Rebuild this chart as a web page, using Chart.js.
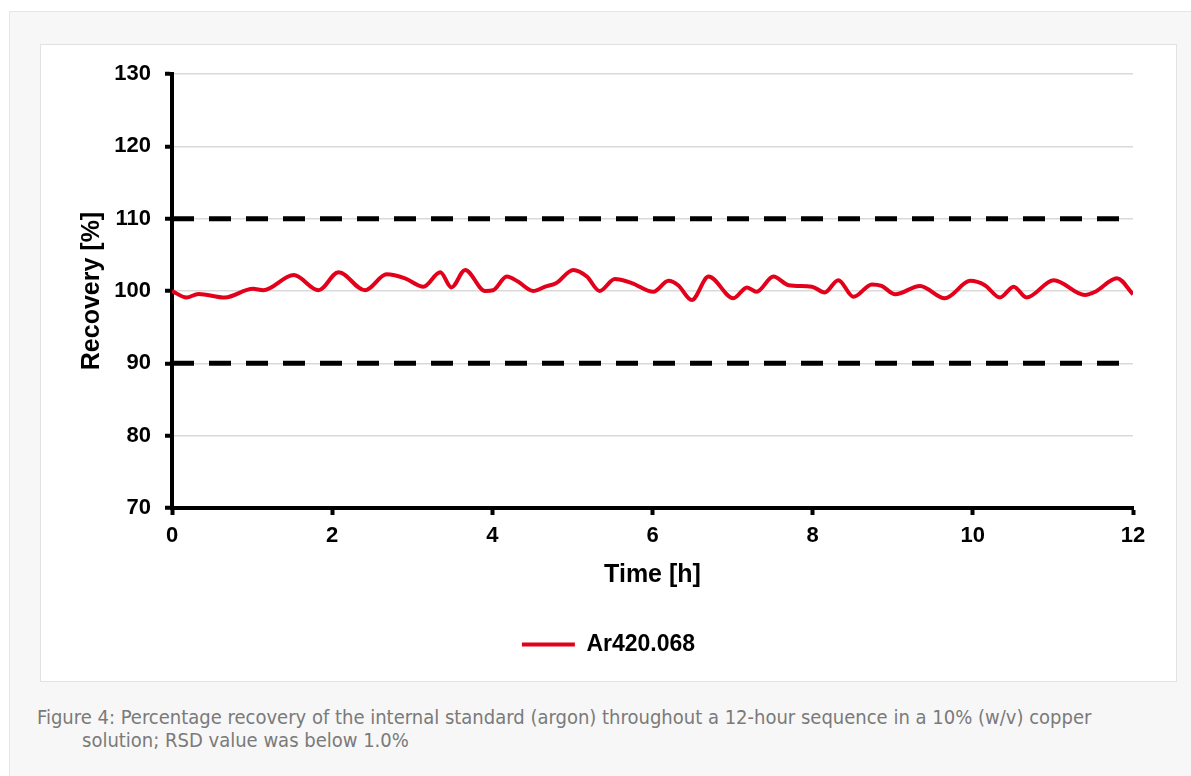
<!DOCTYPE html>
<html>
<head>
<meta charset="utf-8">
<script src="https://cdn.jsdelivr.net/npm/chart.js@4.4.1/dist/chart.umd.min.js"></script>
<style>
  html, body { margin: 0; padding: 0; background: #ffffff; width: 1191px; height: 776px; overflow: hidden; }
  #panel { position: absolute; left: 9px; top: 11px; width: 1182px; height: 765px; background: #f7f7f7; border-left: 1px solid #e6e6e6; border-top: 1px solid #e6e6e6; box-sizing: border-box; }
  #box { position: absolute; left: 40px; top: 44px; width: 1137px; height: 638px; background: #ffffff; border: 1px solid #e2e2e2; box-sizing: border-box; }
  #wrap { position: absolute; left: 40px; top: 44px; width: 1137px; height: 638px; }
  #caption { position: absolute; left: 37px; top: 706px; width: 1090px; padding-left: 45px; text-indent: -45px; box-sizing: border-box;
    font-family: "Liberation Sans Narrow", "DejaVu Sans Condensed", "Liberation Sans", sans-serif; font-size: 20px; line-height: 23px; color: #7a7a7a; }
</style>
</head>
<body>
<div id="panel"></div>
<div id="box"></div>
<div id="wrap"><canvas id="c" width="1137" height="638"></canvas></div>
<div id="caption">Figure 4: Percentage recovery of the internal standard (argon) throughout a 12-hour sequence in a 10% (w/v) copper solution; RSD value was below 1.0%</div>
<script>
const timeH = [0, 0.18, 0.33, 0.66, 1.01, 1.14, 1.52, 1.83, 2.08, 2.41, 2.68, 2.91, 3.14, 3.35, 3.49, 3.66, 3.91, 4.01, 4.18, 4.32, 4.51, 4.66, 4.80, 5.01, 5.18, 5.34, 5.53, 5.74, 6.01, 6.20, 6.32, 6.49, 6.70, 7.01, 7.18, 7.30, 7.51, 7.70, 7.99, 8.15, 8.32, 8.51, 8.74, 8.86, 9.03, 9.34, 9.65, 9.97, 10.15, 10.34, 10.51, 10.67, 11.01, 11.40, 11.53, 11.80, 12.0];
const recovery = [100.0, 99.1, 99.6, 99.1, 100.3, 100.1, 102.2, 100.1, 102.6, 100.1, 102.3, 101.75, 100.6, 102.6, 100.5, 102.9, 100.0, 100.1, 102.0, 101.3, 100.0, 100.6, 101.1, 102.9, 102.0, 100.0, 101.65, 101.1, 99.9, 101.4, 100.8, 98.75, 102.0, 99.0, 100.5, 99.9, 102.0, 100.8, 100.6, 99.8, 101.5, 99.2, 100.9, 100.7, 99.55, 100.7, 99.0, 101.4, 100.8, 99.1, 100.6, 99.1, 101.5, 99.45, 99.9, 101.75, 99.55];
const limitTime = [0, 12];
const upperLimit = [110, 110];
const lowerLimit = [90, 90];
const seriesName = 'Ar420.068';
const xTitle = 'Time [h]';
const yTitle = 'Recovery [%]';
const yMin = 70, yMax = 130, yStep = 10;
const xMin = 0, xMax = 12, xStep = 2;

const RED = '#e2001a';
const FONT = '"Liberation Sans", Arial, sans-serif';
const toXY = (xs, ys) => xs.map((x, i) => ({x: x, y: ys[i]}));

new Chart(document.getElementById('c'), {
  type: 'line',
  data: {
    datasets: [
      { label: seriesName, data: toXY(timeH, recovery), borderColor: RED, backgroundColor: RED, borderWidth: 4,
        pointRadius: 0, cubicInterpolationMode: 'monotone', order: 0 },
      { label: 'upper', data: toXY(limitTime, upperLimit), borderColor: '#000', borderWidth: 5, borderDash: [22, 15],
        pointRadius: 0, order: 1 },
      { label: 'lower', data: toXY(limitTime, lowerLimit), borderColor: '#000', borderWidth: 5, borderDash: [22, 15],
        pointRadius: 0, order: 1 }
    ]
  },
  options: {
    responsive: false,
    animation: false,
    layout: { padding: { left: 0, top: 30, right: 0, bottom: 16 } },
    plugins: {
      tooltip: { enabled: false },
      legend: {
        position: 'bottom',
        labels: {
          font: { family: FONT, size: 23, weight: 'bold' },
          color: '#000',
          boxWidth: 53, boxHeight: 4, padding: 10,
          generateLabels: (chart) => [{ text: chart.data.datasets[0].label, fillStyle: RED, strokeStyle: RED, lineWidth: 0, datasetIndex: 0, fontColor: '#000' }]
        }
      }
    },
    scales: {
      x: {
        type: 'linear', min: xMin, max: xMax,
        ticks: { stepSize: xStep, font: { family: FONT, size: 22, weight: 'bold' }, color: '#000', padding: 8 },
        grid: { drawOnChartArea: false, drawTicks: true, tickLength: 7, tickWidth: 4, tickColor: '#000' },
        border: { color: '#000', width: 4 },
        title: { display: true, text: xTitle, font: { family: FONT, size: 25, weight: 'bold' }, color: '#000', padding: { top: 0, bottom: 33 }, lineHeight: 1 },
        afterFit: (s) => { s.height = 115; }
      },
      y: {
        type: 'linear', min: yMin, max: yMax,
        ticks: { stepSize: yStep, font: { family: FONT, size: 22, weight: 'bold' }, color: '#000', padding: 14 },
        grid: { color: '#d9d9d9', lineWidth: 1.5, drawTicks: true, tickLength: 7, tickWidth: 4, tickColor: '#000' },
        border: { color: '#000', width: 4 },
        title: { display: true, text: yTitle, font: { family: FONT, size: 25, weight: 'bold' }, color: '#000', padding: { top: 37, bottom: 0 }, lineHeight: 1 },
        afterFit: (s) => { s.width = 132; }
      },
      yr: {
        position: 'right', display: true,
        ticks: { display: false },
        grid: { display: false },
        border: { display: false },
        afterFit: (s) => { s.width = 44; }
      }
    }
  }
});
</script>
</body>
</html>
